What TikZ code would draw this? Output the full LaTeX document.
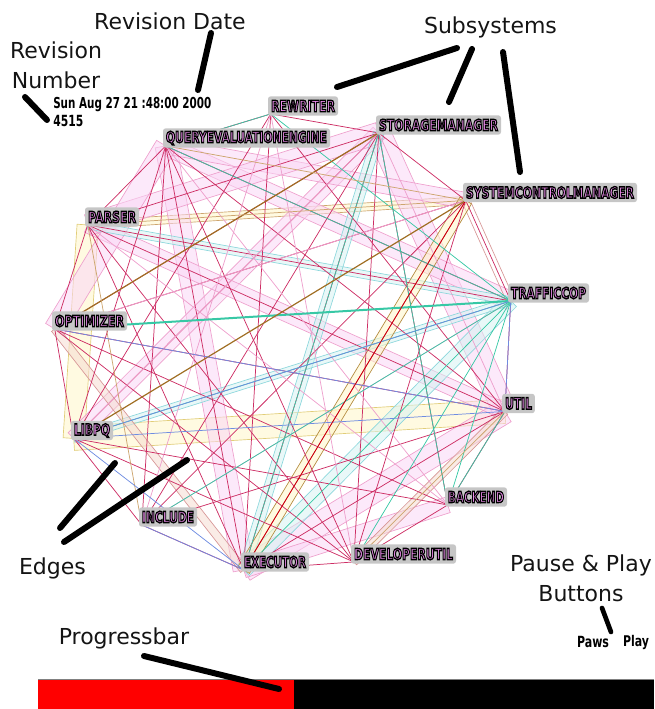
\documentclass[tikz,border=0pt]{standalone}
\usepackage{fontspec}
\setmainfont{DejaVu Sans}
\newfontfamily\annfont{DejaVu Sans}
\newfontfamily\lblK{DejaVu Sans Bold}[FakeBold=9]
\newfontfamily\lblP{DejaVu Sans Bold}
\usetikzlibrary{calc,backgrounds}
\definecolor{ecr}{RGB}{205,45,100}
\definecolor{epk}{RGB}{238,160,205}
\definecolor{etl}{RGB}{55,200,165}
\definecolor{elc}{RGB}{140,215,220}
\definecolor{ebr}{RGB}{160,110,35}
\definecolor{eye}{RGB}{225,205,120}
\definecolor{ebl}{RGB}{110,140,225}
\definecolor{ers}{RGB}{215,150,150}
\definecolor{etan}{RGB}{205,165,110}
\definecolor{pfill}{RGB}{250,215,245}
\definecolor{yfill}{RGB}{255,245,200}
\definecolor{cfill}{RGB}{215,242,242}
\definecolor{rfill}{RGB}{245,220,210}
\definecolor{boxgray}{RGB}{198,198,198}
\definecolor{lblpink}{RGB}{235,140,235}
\definecolor{anntext}{RGB}{20,20,20}
\newcommand\lab[2]{\resizebox{#1}{8.6pt}{{\color{lblpink}\special{pdf:code 0 0 0 RG}\lblK #2}}}
\newcommand\plain[2]{\resizebox{#1}{8.4pt}{\lblP #2}}
\newcommand\edgeband[5]{\draw[draw=#3, fill=#4, fill opacity=0.55, line width=0.5pt] ($(#1)!#5!90:(#2)$) -- ($(#2)!#5!-90:(#1)$) -- ($(#2)!#5!90:(#1)$) -- ($(#1)!#5!-90:(#2)$) -- cycle;}
\tikzset{
  lbl/.style={fill=boxgray, rounded corners=2pt, inner xsep=2.25pt, inner ysep=0pt, minimum height=14.5pt},
  ann/.style={font={\annfont\fontsize{16.5}{22.5}\selectfont}, text=anntext, inner sep=0pt, align=center},
  leader/.style={line width=4.5pt, line cap=round, black},
  thinedge/.style={line width=0.55pt},
}
\begin{document}
\begin{tikzpicture}[x=0.75pt,y=-0.75pt]
\useasboundingbox (0,0) rectangle (654,709);
% ---------- subsystem nodes ----------
\node[lbl] (rew) at (303,106) {\lab{48pt}{REWRITER}};
\node[lbl] (qee) at (246.5,138) {\lab{120.75pt}{QUERYEVALUATIONENGINE}};
\node[lbl] (sto) at (438.5,125) {\lab{89.25pt}{STORAGEMANAGER}};
\node[lbl] (scm) at (550,192.5) {\lab{126pt}{SYSTEMCONTROLMANAGER}};
\node[lbl] (par) at (112,217) {\lab{36pt}{PARSER}};
\node[lbl] (tra) at (548.5,293) {\lab{56.25pt}{TRAFFICCOP}};
\node[lbl] (opt) at (89.5,321) {\lab{51.75pt}{OPTIMIZER}};
\node[lbl] (uti) at (518.5,403.5) {\lab{20pt}{UTIL}};
\node[lbl] (lib) at (92,430.5) {\lab{27pt}{LIBPQ}};
\node[lbl] (bac) at (476,497) {\lab{42pt}{BACKEND}};
\node[lbl] (inc) at (168,517) {\lab{39pt}{INCLUDE}};
\node[lbl] (exe) at (275,562) {\lab{46.5pt}{EXECUTOR}};
\node[lbl] (dev) at (403.5,554) {\lab{74.25pt}{DEVELOPERUTIL}};
\foreach \n in {rew,qee,sto,scm,par,tra,opt,uti,lib,bac,inc,exe,dev}
  \coordinate (\n P) at ($(\n.south west)+(3,-2)$);
% ---------- edges ----------
\begin{scope}[on background layer]
\edgeband{parP}{libP}{eye}{yfill}{8pt}
\edgeband{libP}{utiP}{eye}{yfill}{9pt}
\edgeband{parP}{scmP}{etan}{yfill}{3pt}
\edgeband{qeeP}{exeP}{epk}{pfill}{8pt}
\edgeband{utiP}{exeP}{epk}{pfill}{9pt}
\edgeband{stoP}{utiP}{epk}{pfill}{9pt}
\edgeband{stoP}{libP}{epk}{pfill}{6pt}
\edgeband{qeeP}{traP}{epk}{pfill}{7pt}
\edgeband{parP}{utiP}{epk}{pfill}{6pt}
\edgeband{bacP}{exeP}{epk}{pfill}{6pt}
\edgeband{qeeP}{scmP}{epk}{pfill}{6pt}
\edgeband{parP}{stoP}{epk}{pfill}{8pt}
\edgeband{optP}{qeeP}{epk}{pfill}{8pt}
\edgeband{traP}{exeP}{elc}{cfill}{6pt}
\edgeband{parP}{traP}{elc}{cfill}{3pt}
\edgeband{stoP}{exeP}{elc}{cfill}{4pt}
\edgeband{libP}{traP}{elc}{cfill}{3pt}
\edgeband{devP}{utiP}{ers}{rfill}{3pt}
\edgeband{optP}{exeP}{ers}{rfill}{3pt}
\edgeband{scmP}{traP}{ers}{none}{3pt}
\edgeband{scmP}{exeP}{ebr!70!eye}{yfill}{5pt}
% hull
\foreach \a/\b in {parP/qeeP, qeeP/rewP, rewP/stoP, stoP/scmP, scmP/traP, traP/utiP, utiP/bacP, bacP/devP, devP/exeP, exeP/incP, incP/libP, libP/optP, optP/parP}
  \draw[thinedge, ecr] (\a) -- (\b);
% crimson
\foreach \a/\b in {stoP/optP, stoP/libP, stoP/exeP, stoP/devP, stoP/incP, stoP/parP, stoP/bacP, qeeP/exeP, qeeP/incP, qeeP/utiP, qeeP/devP, qeeP/libP, parP/utiP, parP/exeP, parP/traP, optP/utiP, optP/devP, optP/bacP, libP/devP, utiP/exeP, utiP/incP, scmP/exeP, scmP/devP, scmP/optP, rewP/exeP, rewP/libP, rewP/utiP, incP/scmP, qeeP/traP, parP/devP, libP/bacP}
  \draw[thinedge, ecr] (\a) -- (\b);
% light pink
\foreach \a/\b in {stoP/utiP, qeeP/bacP, parP/bacP, rewP/devP, optP/scmP, incP/traP, libP/stoP, rewP/incP}
  \draw[thinedge, epk] (\a) -- (\b);
% teal
\foreach \a/\b in {traP/exeP, traP/devP, qeeP/traP, traP/bacP, utiP/bacP, traP/libP, rewP/qeeP, traP/incP, stoP/bacP, rewP/traP, stoP/exeP}
  \draw[thinedge, etl] (\a) -- (\b);
\draw[line width=1.5pt, etl] (optP) -- (traP);
% brown
\draw[line width=0.9pt, ebr] (optP) -- (stoP);
\draw[line width=0.9pt, ebr] (libP) -- (scmP);
\foreach \a/\b in {parP/scmP, qeeP/scmP, devP/utiP, incP/parP}
  \draw[thinedge, etan] (\a) -- (\b);
% blue
\foreach \a/\b in {libP/exeP, libP/traP, traP/utiP, incP/exeP, libP/utiP, optP/utiP}
  \draw[thinedge, ebl] (\a) -- (\b);
\draw[thinedge, red!80!black] (scmP) -- (exeP);
\end{scope}
% ---------- annotations ----------
\node[ann] (tdate) at (170,21) {Revision Date};
\node[ann] (tnum) at (56,65) {Revision\\Number};
\node[ann] (tsub) at (490.5,27) {Subsystems};
\node[ann] (tedge) at (52.5,568) {Edges};
\node[ann] (tpause) at (581,578) {Pause \& Play\\Buttons};
\node[ann] (tprog) at (124,638) {Progressbar};
\node[anchor=west, inner sep=0pt] (rdate) at (53,105) {\plain{118.5pt}{Sun Aug 27 21 :48:00 2000}};
\node[anchor=west, inner sep=0pt] (rnum) at (53,121) {\plain{22.5pt}{4515}};
\node[inner sep=0pt] (paws) at (593,642) {\plain{24pt}{Paws}};
\node[inner sep=0pt] (play) at (636,642) {\plain{19.5pt}{Play}};
% leader lines
\coordinate (d1) at (211,33); \coordinate (d2) at (198,90);
\coordinate (n1) at (25,97); \coordinate (n2) at (47,120);
\coordinate (s1) at (457,48); \coordinate (s2) at (337,87);
\coordinate (s3) at (472,49); \coordinate (s4) at (449,102);
\coordinate (s5) at (503,52); \coordinate (s6) at (520,172);
\coordinate (e1) at (60,528); \coordinate (e2) at (115,463);
\coordinate (e3) at (64,542); \coordinate (e4) at (187,460);
\coordinate (p1) at (602,608); \coordinate (p2) at (611,632);
\coordinate (g1) at (144,656); \coordinate (g2) at (279,689);
% progress bar
\fill[red] (38,679) rectangle (294,709);
\fill[black] (294,679) rectangle (654,709);
\draw[gray, line width=0.5pt] (38,679) -- (654,679);
\draw[leader] (d1) -- (d2);
\draw[leader] (n1) -- (n2);
\draw[leader] (s1) -- (s2);
\draw[leader] (s3) -- (s4);
\draw[leader] (s5) -- (s6);
\draw[leader] (e1) -- (e2);
\draw[leader] (e3) -- (e4);
\draw[leader, line width=3.5pt] (p1) -- (p2);
\draw[leader] (g1) -- (g2);
\end{tikzpicture}
\end{document}
